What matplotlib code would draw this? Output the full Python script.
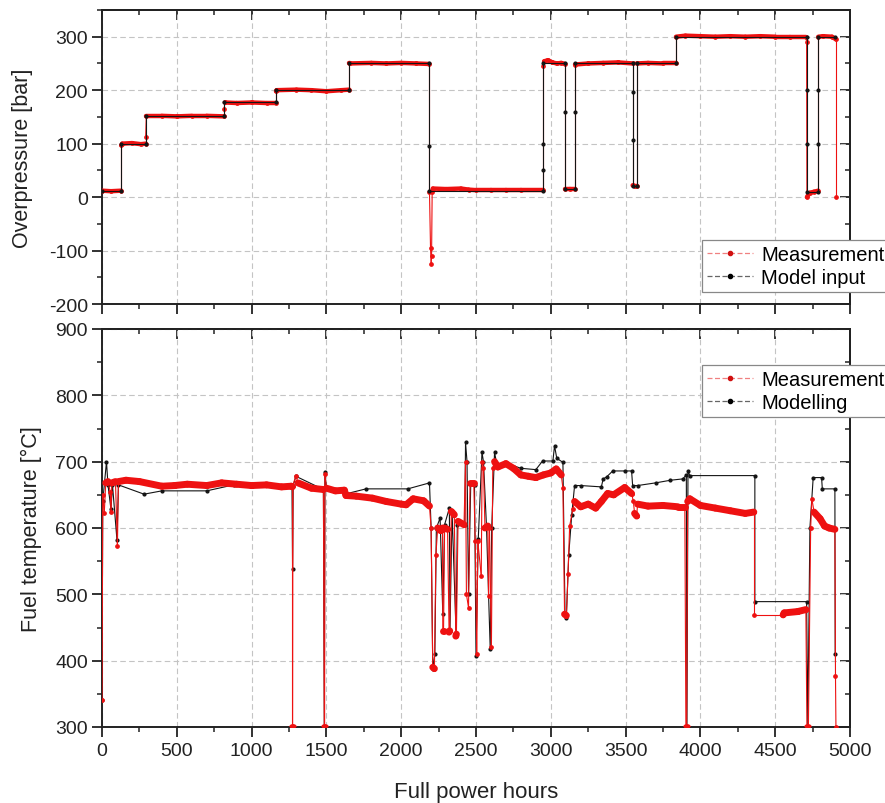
import numpy as np
import matplotlib
matplotlib.use("Agg")
import matplotlib.pyplot as plt
from matplotlib.collections import LineCollection
from matplotlib.lines import Line2D
from matplotlib.ticker import MultipleLocator

plt.rcParams['font.family'] = ['Liberation Sans', 'DejaVu Sans']
plt.rcParams['axes.unicode_minus'] = False

# ---------------- data ----------------
# Overpressure [bar] vs full power hours
pressure_measurement = [
    (0, 12), (60, 11), (129, 12), (129, 97), (135, 100), (200, 101), (260, 99), (292, 100),
    (292, 112), (296, 152), (400, 152), (500, 151), (600, 152), (700, 152), (817, 151),
    (817, 165), (821, 177), (900, 176), (1000, 177), (1100, 176), (1163, 176),
    (1163, 198), (1167, 200), (1300, 201), (1400, 200), (1500, 198), (1600, 200), (1653, 201),
    (1653, 250), (1657, 250), (1800, 251), (1900, 250), (2000, 251), (2100, 250), (2189, 249),
    (2189, 10), (2196, -95), (2200, -125), (2203, -110), (2207, 10), (2212, 16), (2300, 15),
    (2400, 16), (2450, 14), (2500, 13), (2600, 13), (2700, 13), (2800, 13), (2948, 13),
    (2948, 245), (2955, 254), (2980, 256), (3010, 252), (3040, 250), (3070, 251), (3095, 249),
    (3095, 15), (3130, 15), (3162, 15), (3162, 248), (3250, 250), (3350, 251), (3450, 252),
    (3547, 250), (3547, 22), (3560, 20), (3574, 20), (3574, 250), (3650, 251), (3750, 250),
    (3837, 250), (3837, 300), (3900, 302), (4000, 301), (4100, 300), (4200, 301), (4300, 300),
    (4400, 301), (4500, 300), (4600, 300), (4705, 300), (4710, 290), (4712, 0), (4730, 8),
    (4760, 10), (4788, 12), (4788, 300), (4820, 301), (4880, 300), (4906, 295), (4906, 0),
]
pressure_model = [
    (0, 12), (129, 12), (129, 100), (292, 100), (292, 152), (817, 152), (817, 177),
    (1163, 177), (1163, 200), (1653, 200), (1653, 250), (2189, 250), (2189, 95), (2189, 12),
    (2948, 12), (2948, 50), (2948, 100), (2948, 250), (3095, 250), (3095, 160), (3095, 15),
    (3162, 15), (3162, 160), (3162, 250), (3547, 250), (3547, 196), (3547, 106), (3547, 20),
    (3574, 20), (3574, 250), (3837, 250), (3837, 300), (4710, 300), (4710, 200), (4710, 100),
    (4710, 10), (4788, 10), (4788, 100), (4788, 200), (4788, 300), (4900, 300),
]

# Fuel temperature [°C] vs full power hours
temperature_measurement = [
    (0, 340), (5, 650), (15, 622), (25, 668), (40, 670), (55, 655), (60, 624), (66, 668),
    (90, 670), (103, 573), (110, 670), (160, 672), (250, 670), (400, 663), (485, 664), (570, 666),
    (700, 664), (800, 668), (900, 666), (1000, 664), (1100, 665), (1200, 662), (1265, 663),
    (1272, 662), (1272, 300), (1274, 300), (1276, 664), (1296, 679), (1310, 668), (1400, 660),
    (1480, 658), (1486, 300), (1488, 300), (1490, 682), (1500, 660), (1560, 656), (1620, 657),
    (1631, 649), (1700, 648), (1808, 645), (1900, 640), (2000, 636), (2033, 635), (2080, 644),
    (2150, 641), (2189, 633), (2200, 600), (2211, 390), (2222, 388), (2232, 560), (2244, 600),
    (2265, 596), (2276, 600), (2278, 445), (2283, 445), (2290, 600), (2310, 598), (2320, 443),
    (2324, 445), (2335, 625), (2355, 620), (2365, 437), (2369, 440), (2380, 610), (2420, 605),
    (2430, 700), (2436, 500), (2450, 480), (2460, 668), (2485, 668), (2495, 580), (2505, 410),
    (2512, 580), (2535, 528), (2541, 700), (2550, 690), (2560, 600), (2579, 603), (2584, 498),
    (2590, 600), (2603, 420), (2612, 690), (2624, 700), (2646, 692), (2700, 697), (2750, 690),
    (2800, 680), (2850, 678), (2900, 676), (2950, 680), (3000, 683), (3036, 689), (3070, 680),
    (3081, 660), (3092, 470), (3104, 468), (3115, 530), (3126, 603), (3148, 629), (3159, 640),
    (3200, 632), (3250, 636), (3300, 630), (3338, 640), (3380, 652), (3420, 650), (3494, 661),
    (3540, 652), (3552, 640), (3560, 622), (3574, 618), (3580, 636), (3650, 633), (3750, 634),
    (3850, 632), (3896, 632), (3903, 300), (3908, 300), (3915, 640), (3929, 644), (4000, 634),
    (4100, 630), (4200, 626), (4300, 622), (4357, 624), (4357, 469), (4553, 469), (4560, 472),
    (4650, 474), (4705, 477), (4712, 300), (4722, 300), (4737, 600), (4745, 644), (4760, 624),
    (4800, 614), (4830, 603), (4860, 600), (4899, 598), (4903, 377), (4906, 300),
]
temperature_model = [
    (0, 340), (5, 640), (30, 700), (40, 665), (60, 628), (70, 665), (100, 582), (110, 665),
    (281, 651), (400, 656), (700, 656), (880, 665), (1000, 663), (1270, 662), (1274, 538),
    (1278, 664), (1296, 678), (1480, 658), (1486, 300), (1490, 684), (1500, 660), (1640, 652),
    (1765, 659), (2044, 659), (2189, 668), (2200, 600), (2211, 387), (2225, 410), (2235, 600),
    (2260, 615), (2278, 470), (2290, 605), (2322, 630), (2326, 445), (2340, 625), (2367, 440),
    (2375, 605), (2425, 605), (2430, 729), (2440, 700), (2450, 500), (2465, 668), (2490, 665),
    (2500, 407), (2515, 583), (2540, 714), (2550, 700), (2570, 603), (2595, 418), (2605, 600),
    (2624, 714), (2640, 695), (2700, 698), (2800, 690), (2900, 688), (2945, 701), (3014, 701),
    (3025, 724), (3040, 705), (3081, 699), (3095, 470), (3104, 465), (3120, 560), (3140, 620),
    (3159, 664), (3200, 664), (3338, 662), (3350, 674), (3373, 677), (3414, 686), (3494, 686),
    (3540, 686), (3547, 664), (3580, 664), (3700, 668), (3800, 672), (3882, 674), (3906, 680),
    (3910, 300), (3917, 686), (3929, 679), (4364, 679), (4364, 489), (4710, 489), (4718, 300),
    (4732, 600), (4754, 676), (4810, 676), (4815, 659), (4899, 659), (4901, 410),
]

x_ticks = [0, 500, 1000, 1500, 2000, 2500, 3000, 3500, 4000, 4500, 5000]
pressure_ticks = [-200, -100, 0, 100, 200, 300]
temperature_ticks = [300, 400, 500, 600, 700, 800, 900]

RED = '#ee1111'
BLACK = '#141414'
INK = '#222222'

W, H = 885, 804
fig = plt.figure(figsize=(W / 100, H / 100), dpi=100)
ax1 = fig.add_axes([102 / W, 1 - 305 / H, 748 / W, 294 / H])
ax2 = fig.add_axes([102 / W, 1 - 728 / H, 748 / W, 398 / H])


def draw_measurement(ax, pts, xlim, ylim, wpx, hpx, thick, z):
    x = np.array([p[0] for p in pts], float)
    y = np.array([p[1] for p in pts], float)
    segs = np.stack([np.column_stack([x[:-1], y[:-1]]),
                     np.column_stack([x[1:], y[1:]])], axis=1)
    dx = np.abs(np.diff(x))
    dxp = dx / (xlim[1] - xlim[0]) * wpx
    dyp = np.abs(np.diff(y)) / (ylim[1] - ylim[0]) * hpx
    # steep transitions and data gaps are drawn as thin connecting lines
    thin = (dyp > 1.5 * dxp + 3) | (dx > 180)
    widths = np.where(thin, 0.8, thick)
    lc = LineCollection(segs, linewidths=widths, colors=RED, capstyle='round',
                        joinstyle='round', zorder=z)
    ax.add_collection(lc)
    ax.plot(x, y, ls='none', marker='o', ms=2.4, color=RED, mec=RED, zorder=z)


def draw_model(ax, pts, z):
    x = [p[0] for p in pts]
    y = [p[1] for p in pts]
    ax.plot(x, y, color=BLACK, lw=0.8, marker='o', ms=2.0, mfc=BLACK, mec=BLACK, zorder=z)


xlim = (0, 5000)
ylim1 = (-200, 350)
ylim2 = (300, 900)

draw_measurement(ax1, pressure_measurement, xlim, ylim1, 748, 294, 3.2, 3)
draw_model(ax1, pressure_model, 4)
draw_model(ax2, temperature_model, 3)
draw_measurement(ax2, temperature_measurement, xlim, ylim2, 748, 398, 5.0, 4)

for ax, yl, yt in ((ax1, ylim1, pressure_ticks), (ax2, ylim2, temperature_ticks)):
    ax.set_xlim(*xlim)
    ax.set_ylim(*yl)
    ax.set_xticks(x_ticks)
    ax.xaxis.set_minor_locator(MultipleLocator(250))
    ax.set_yticks(yt)
    ax.yaxis.set_minor_locator(MultipleLocator(50))
    ax.grid(True, which='major', ls=(0, (5, 3)), color='#c4c4c4', lw=0.8, zorder=0)
    ax.set_axisbelow(True)
    ax.tick_params(which='major', direction='out', length=7, width=1.3,
                   labelsize=14, colors=INK, pad=3)
    ax.tick_params(which='minor', direction='out', length=3.5, width=1.1, colors=INK)
    ax.tick_params(axis='x', which='major', pad=4)
    for s in ax.spines.values():
        s.set_linewidth(1.4)
        s.set_color(INK)
    # inward ticks on top and right
    sx = ax.secondary_xaxis('top')
    sx.set_xticks(x_ticks)
    sx.xaxis.set_minor_locator(MultipleLocator(250))
    sx.tick_params(which='major', direction='in', length=7, width=1.3, labeltop=False, colors=INK)
    sx.tick_params(which='minor', direction='in', length=3.5, width=1.1, colors=INK)
    sx.spines['top'].set_linewidth(1.4)
    sx.spines['top'].set_color(INK)
    sy = ax.secondary_yaxis('right')
    sy.set_yticks(yt)
    sy.yaxis.set_minor_locator(MultipleLocator(50))
    sy.tick_params(which='major', direction='in', length=7, width=1.3, labelright=False, colors=INK)
    sy.tick_params(which='minor', direction='in', length=3.5, width=1.1, colors=INK)
    sy.spines['right'].set_linewidth(1.4)
    sy.spines['right'].set_color(INK)

ax1.tick_params(axis='x', labelbottom=False)

ax1.set_ylabel('Overpressure [bar]', fontsize=15.5, color=INK)
ax1.yaxis.set_label_coords(-0.092, 0.5)
ax2.set_ylabel('Fuel temperature [°C]', fontsize=15.5, color=INK)
ax2.yaxis.set_label_coords(-0.080, 0.5)
ax2.set_xlabel('Full power hours', fontsize=16, color=INK)
ax2.xaxis.set_label_coords(0.5, -0.135)


def legend_handles(second):
    return [
        Line2D([], [], color='#f08080', ls=(0, (4, 2)), lw=0.9, marker='o', ms=3,
               mfc='#d01010', mec='#d01010'),
        Line2D([], [], color='#666666', ls=(0, (4, 2)), lw=0.9, marker='o', ms=3,
               mfc='black', mec='black'),
    ], ['Measurement', second]


leg_kw = dict(fontsize=14.5, frameon=True, fancybox=False, framealpha=1,
              edgecolor='#888888', borderpad=0.25, handlelength=2.3,
              handletextpad=0.4, labelspacing=0.2, borderaxespad=0)
h, l = legend_handles('Model input')
lg1 = ax1.legend(h, l, loc='lower left', bbox_to_anchor=(0.802, 0.041), **leg_kw)
lg1.get_frame().set_linewidth(0.9)
lg1.set_zorder(10)
h, l = legend_handles('Modelling')
lg2 = ax2.legend(h, l, loc='upper left', bbox_to_anchor=(0.802, 0.9095), **leg_kw)
lg2.get_frame().set_linewidth(0.9)
lg2.set_zorder(10)

fig.savefig('out.png', dpi=100)
